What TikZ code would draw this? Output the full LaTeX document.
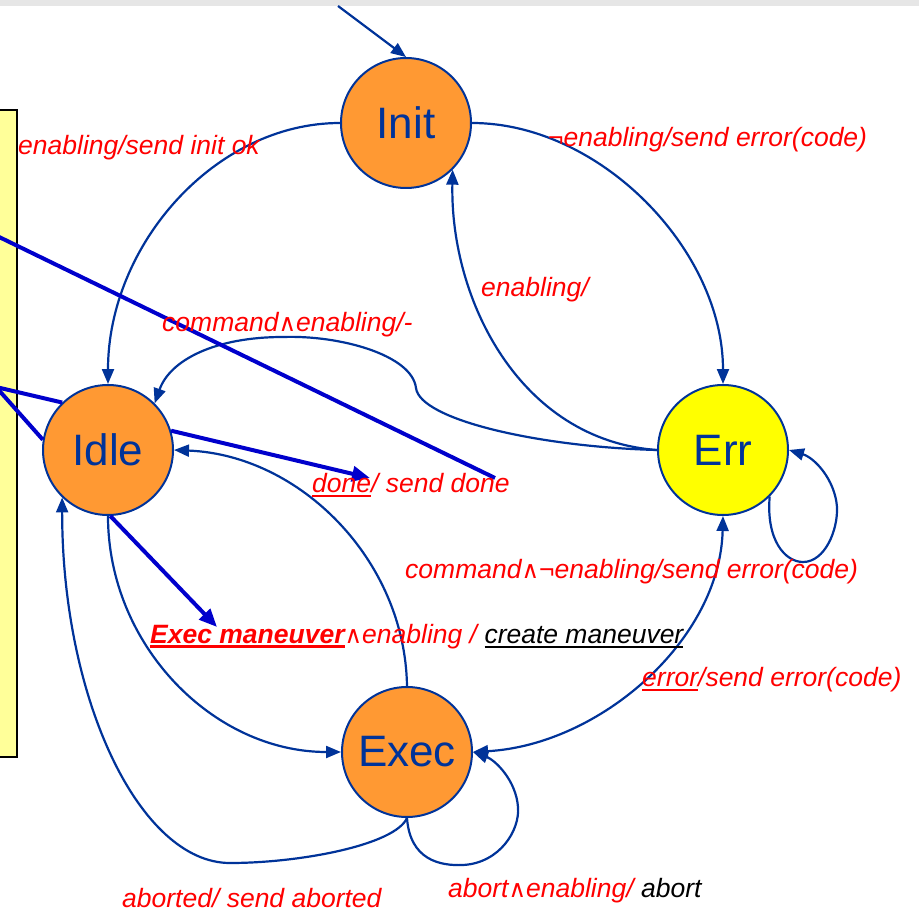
\documentclass[tikz,border=0pt]{standalone}
\usepackage{fontspec}
\setmainfont{Liberation Sans}
\newfontfamily\symfont{DejaVu Sans}
\usetikzlibrary{arrows.meta}

\definecolor{stroke}{HTML}{003399}
\definecolor{heavyblue}{HTML}{0000CC}
\definecolor{stateorange}{HTML}{FF9933}
\definecolor{erryellow}{HTML}{FFFF00}
\definecolor{noteyellow}{HTML}{FFFF99}
\definecolor{labelred}{HTML}{FF0000}
\definecolor{bandgrey}{HTML}{E6E6E6}

% underlined word, rule in the current text colour
\newcommand\ulbox[2][2pt]{\setbox0\hbox{#2}\rlap{\rule[-5pt]{\wd0}{#1}}\box0}
% small conjunction sign used inside guards
\newcommand\andsym{{\symfont\fontsize{24}{24}\selectfont ∧}}

\tikzset{
  state/.style={circle, draw=stroke, line width=2pt, minimum size=130pt,
    inner sep=0pt, text=stroke, font=\fontsize{44}{44}\selectfont},
  trans/.style={draw=stroke, line width=2.2pt,
    -{Triangle[length=15pt,width=12pt]}},
  heavy/.style={draw=heavyblue, line width=4pt},
  heavyarrow/.style={heavy, -{Triangle[length=18pt,width=15pt]}},
  lab/.style={anchor=base west, inner sep=0pt, text=labelred,
    font=\itshape\fontsize{26.5}{30}\selectfont},
}

\begin{document}
\begin{tikzpicture}[x=1pt, y=-1pt]
\useasboundingbox (0,0) rectangle (919,912);

% grey strip along the top edge
\fill[bandgrey] (0,0) rectangle (919,6);

% note box on the left edge
\draw[fill=noteyellow, draw=black, line width=2pt] (-5,110) rectangle (17,757);

% states
\node[state, fill=stateorange] (init) at (406,123) {Init};
\node[state, fill=stateorange] (idle) at (108,450) {Idle};
\node[state, fill=erryellow]   (err)  at (723,450) {Err};
\node[state, fill=stateorange] (exec) at (407,752) {Exec};

% initial transition
\coordinate (start) at (338,6);
\draw[trans] (start) -- (init.north);

% transitions
\draw[trans] (init.west) .. controls (215,123) and (108,245) .. (idle.north);
\draw[trans] (init.east) .. controls (600,123) and (723,250) .. (err.north);
\draw[trans] (err.west) .. controls (520,440) and (450,300) .. (init.-45);
\draw[trans] (err.west) .. controls (540,447) and (420,420) .. (416,388)
  .. controls (412,355) and (340,335) .. (283,337)
  .. controls (215,337) and (170,360) .. (idle.45);
\draw[trans] (idle.south) .. controls (108,645) and (213,752) .. (exec.west);
\draw[trans] (exec.north) .. controls (405,560) and (300,455) .. (idle.east);
\draw[trans, {Triangle[length=15pt,width=12pt]}-{Triangle[length=15pt,width=12pt]}]
  (exec.east) .. controls (600,745) and (720,640) .. (err.south);
\draw[trans] (exec.south) .. controls (395,845) and (300,863) .. (230,863)
  .. controls (140,863) and (62,700) .. (idle.-134);
\draw[trans] (exec.south) .. controls (410,860) and (440,866) .. (463,865)
  .. controls (500,863) and (520,830) .. (518,807)
  .. controls (516,780) and (495,760) .. (exec.east);
\draw[trans] (err.-45) .. controls (766,540) and (785,562) .. (803,562)
  .. controls (825,562) and (838,530) .. (837,507)
  .. controls (835,480) and (815,458) .. (err.east);

% heavy pointers
\coordinate (farleft) at (-5,235);
\coordinate (farright) at (495,478);
\coordinate (note) at (-4,387);
\coordinate (donetip) at (370,478);
\coordinate (exectip) at (217,627);
\draw[heavy] (farleft) -- (farright);
\draw[heavy] (note) -- (idle.134);
\draw[heavy] (note) -- (idle.171);
\draw[heavyarrow] (idle.17) -- (donetip);
\draw[heavyarrow] (idle.-88) -- (exectip);

% transition labels
\node[lab] (l1) at (18,155) {enabling/send init ok};
\node[lab] (l2) at (548,147) {¬enabling/send error(code)};
\node[lab] (l3) at (481,297) {enabling/};
\node[lab] (l4) at (162,331) {command\andsym enabling/-};
\node[lab] (l5) at (312,492) {\ulbox{done}/ send done};
\node[lab] (l6) at (405,578) {command\andsym¬enabling/send error(code)};
\node[lab] (l7) at (150,643) {{\bfseries\ulbox[3pt]{Exec maneuver}}\andsym enabling / \textcolor{black}{\ulbox{create maneuver}}};
\node[lab] (l8) at (642,686) {\ulbox{error}/send error(code)};
\node[lab] (l9) at (122,907) {aborted/ send aborted};
\node[lab] (l10) at (448,897) {abort\andsym enabling/ \textcolor{black}{abort}};
\end{tikzpicture}
\end{document}
